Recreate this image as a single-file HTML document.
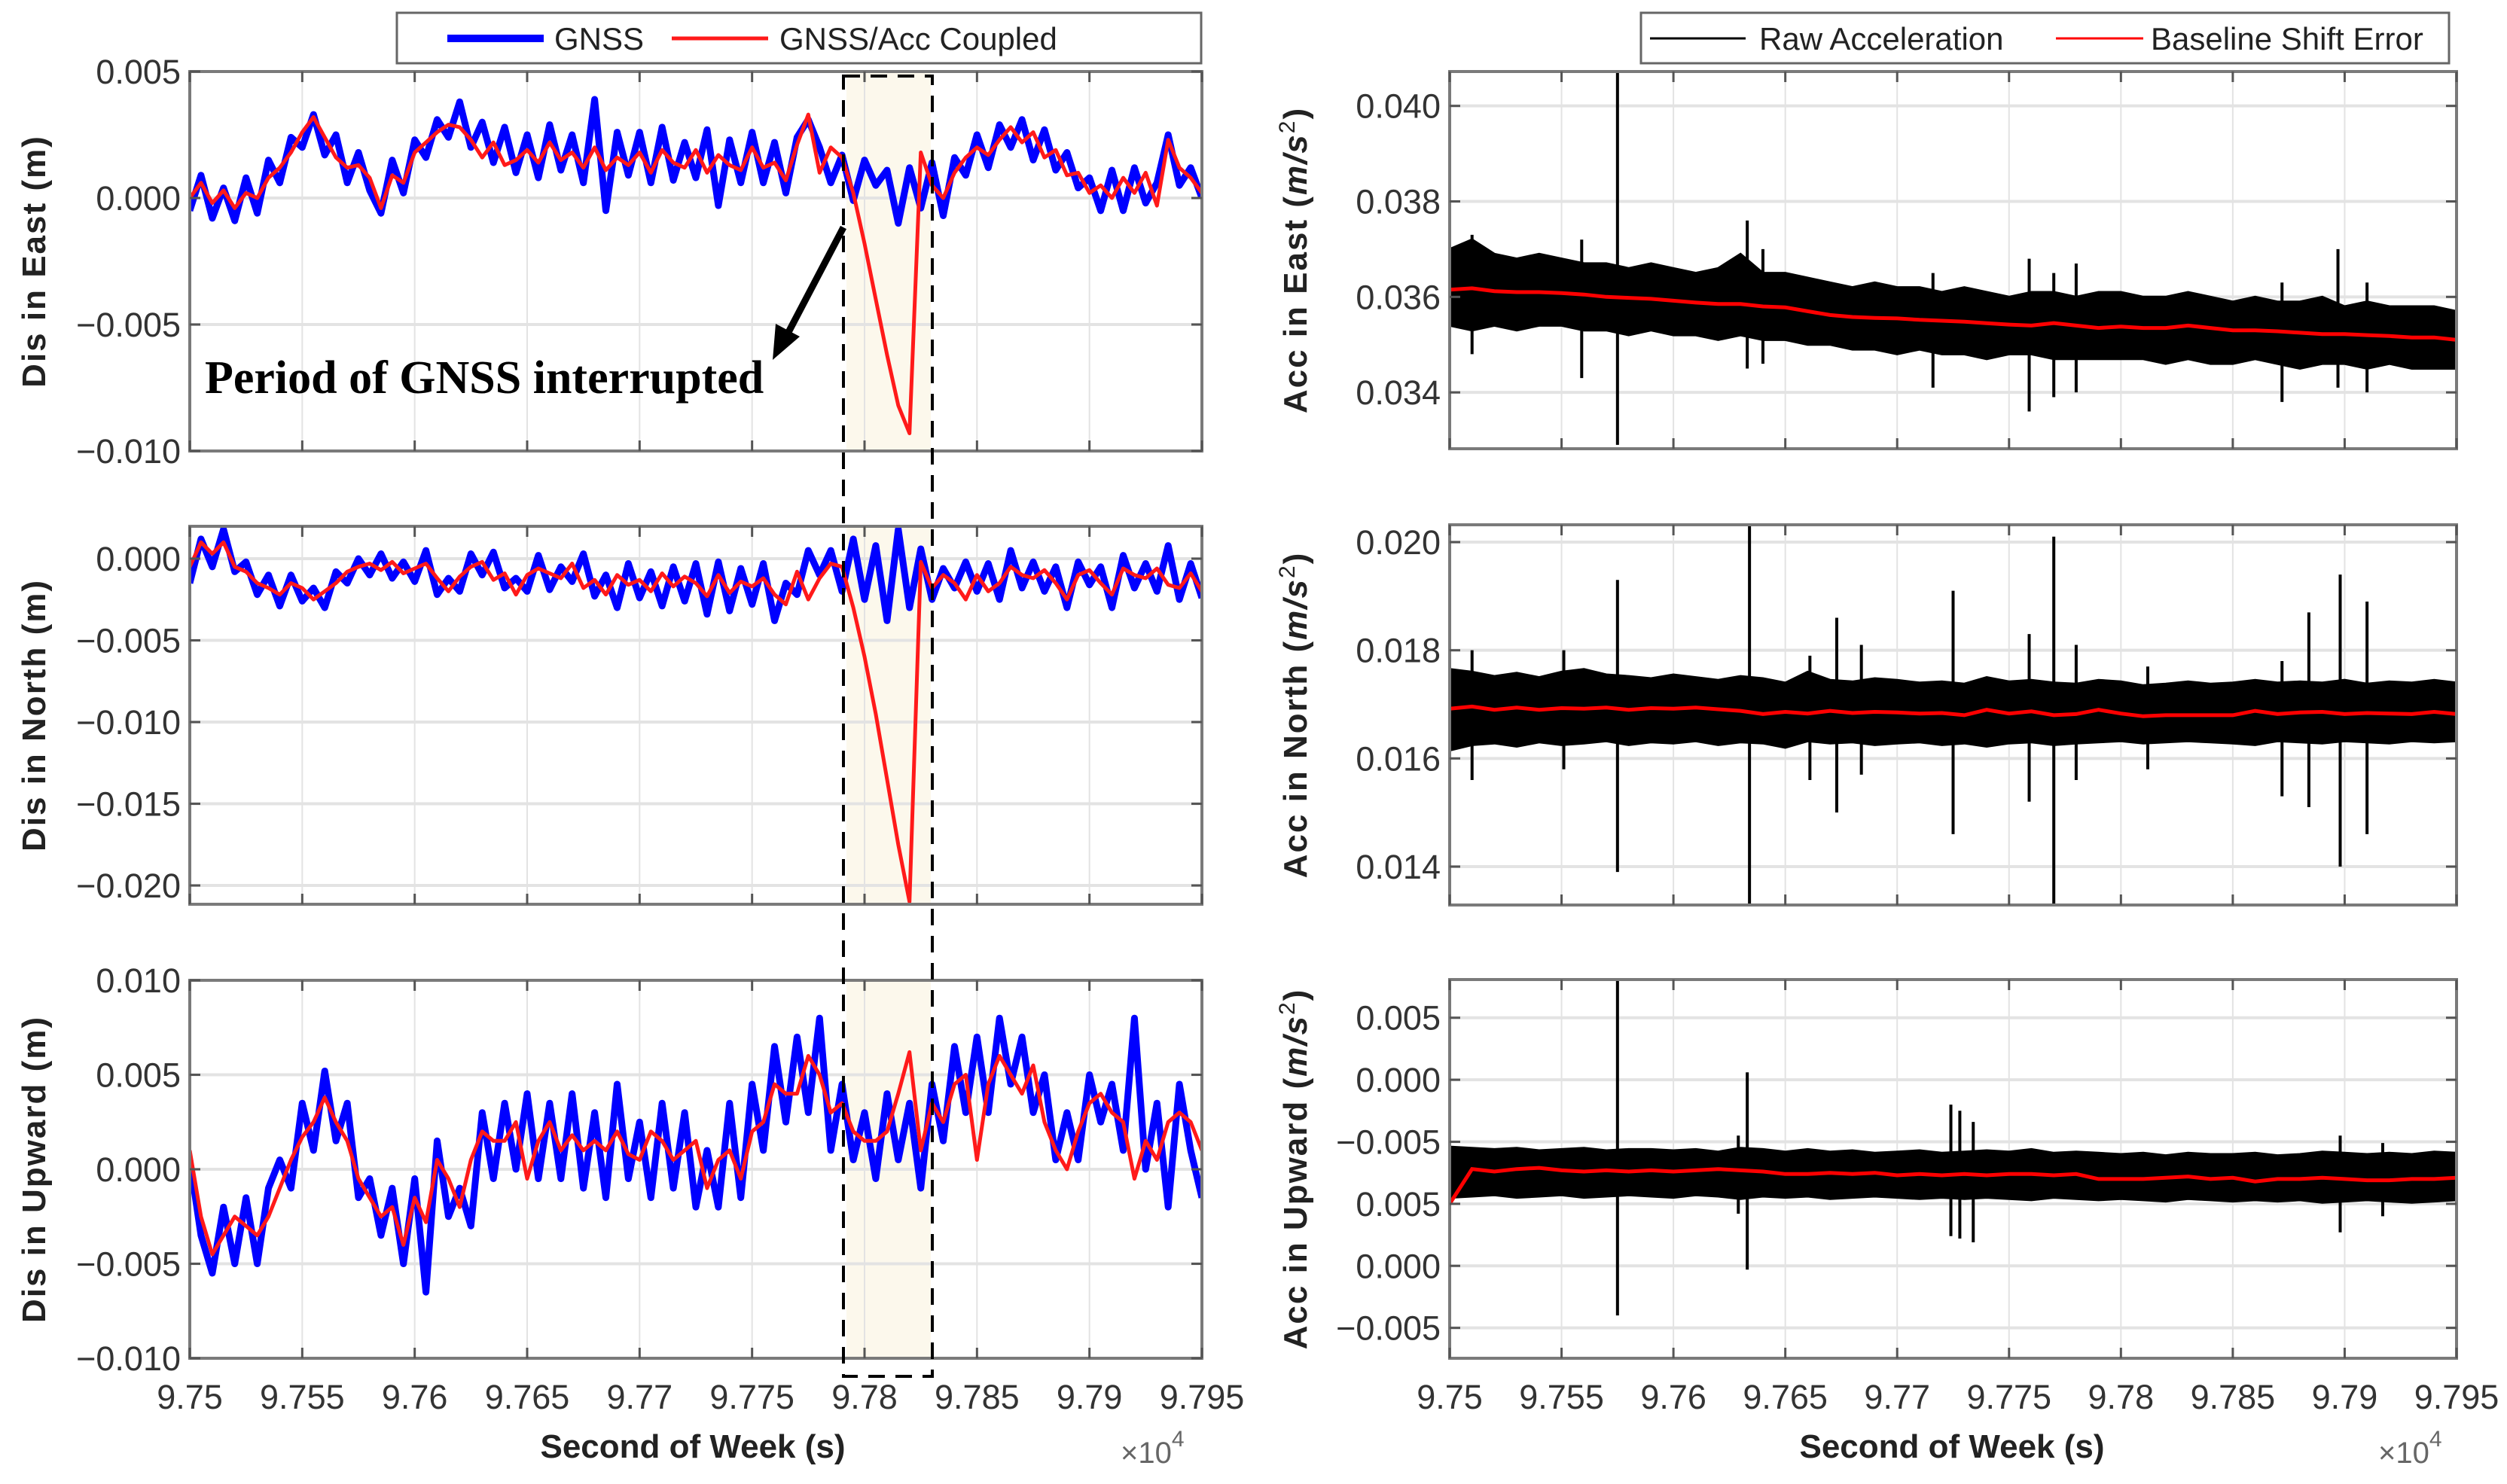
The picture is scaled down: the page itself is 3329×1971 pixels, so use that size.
<!DOCTYPE html>
<html><head><meta charset="utf-8"><style>
html,body{margin:0;padding:0;background:#fff;}
svg{display:block;}
text{font-family:"Liberation Sans",Arial,sans-serif;}
</style></head><body>
<svg id="fig" xmlns="http://www.w3.org/2000/svg" width="3329" height="1971" viewBox="0 0 3329 1971">
<g id="layer-bg"></g>
<g id="layer-data"></g>
<g id="layer-axes"></g>
<g id="layer-annot"></g>
</svg>
<script>
// ---------- data: left panels (mm, every 5 s from 97500) ----------
const xTickVals = [97500,97550,97600,97650,97700,97750,97800,97850,97900,97950];
const xTickLabels = ["9.75","9.755","9.76","9.765","9.77","9.775","9.78","9.785","9.79","9.795"];
const eastGnss = [-0.5,0.9,-0.8,0.4,-0.9,0.8,-0.6,1.5,0.6,2.4, 2.0,3.3,1.7,2.5,0.6,1.8,0.3,-0.6,1.5,0.2, 2.3,1.6,3.1,2.4,3.8,2.0,3.0,1.4,2.8,1.0, 2.5,0.8,2.9,1.1,2.5,0.6,3.9,-0.5,2.6,0.9, 2.6,0.6,2.8,0.7,2.2,0.8,2.7,-0.3,2.3,0.6, 2.6,0.6,2.2,0.2,2.4,3.1,2.0,0.6,1.7,-0.1, 1.5,0.5,1.1,-1.0,1.2,-0.4,1.4,-0.7,1.6,0.9, 2.5,1.2,2.9,2.0,3.1,1.5,2.7,1.1,1.8,0.4, 0.8,-0.5,1.1,-0.5,1.2,-0.2,0.6,2.5,0.5,1.2, 0.0];
const eastCoupled = [0.0,0.6,-0.2,0.3,-0.4,0.2,0.0,0.8,1.2,1.8, 2.6,3.2,2.4,1.6,1.2,1.3,0.8,-0.4,0.9,0.6, 1.8,2.2,2.6,2.9,2.8,2.3,1.6,2.2,1.3,1.5, 1.9,1.4,2.2,1.5,1.8,1.2,2.0,1.1,1.6,1.3, 1.8,1.0,1.9,1.4,1.2,1.9,1.0,1.7,1.3,1.1, 2.0,1.2,1.4,0.7,2.1,3.3,1.0,2.0,1.6,0.2, -1.8,-4.0,-6.2,-8.2,-9.3,1.8,0.5,0.0,1.0,1.6, 2.0,1.7,2.3,2.8,2.2,2.6,1.6,1.9,0.9,1.0, 0.2,0.5,0.0,0.8,0.2,1.0,-0.3,2.3,1.2,0.8, 0.2];
const northGnss = [-1.5,1.2,-0.5,1.8,-0.8,-0.2,-2.2,-1.0,-2.9,-1.0, -2.6,-1.8,-3.0,-0.8,-1.5,0.0,-1.0,0.3,-1.2,-0.2, -1.4,0.5,-2.2,-1.2,-2.0,0.3,-1.0,0.4,-1.8,-1.2, -2.0,0.2,-1.9,-0.5,-1.4,0.3,-2.3,-1.0,-3.0,-0.3, -2.4,-0.8,-2.9,-0.5,-2.6,-0.3,-3.4,-0.2,-3.2,-0.6, -2.8,-0.3,-3.8,-1.5,-2.2,0.5,-1.0,0.5,-2.0,1.2, -2.5,0.8,-3.8,1.8,-3.0,0.6,-2.5,-0.6,-1.8,-0.2, -2.0,-0.3,-2.5,0.5,-1.8,-0.2,-2.0,-0.5,-3.0,-0.2, -1.6,-0.5,-3.0,0.2,-1.8,-0.3,-2.0,0.8,-2.5,-0.3, -2.4];
const northCoupled = [-0.5,1.0,0.3,1.0,-0.5,-0.8,-1.5,-1.8,-2.2,-1.5, -1.8,-2.5,-2.0,-1.5,-0.8,-0.5,-0.3,-0.7,-0.2,-0.9, -0.6,-0.3,-1.2,-2.0,-1.1,-0.5,-0.2,-1.3,-0.9,-2.2, -1.0,-0.6,-0.9,-1.2,-0.3,-1.8,-1.3,-2.2,-1.0,-1.6, -1.3,-2.0,-0.9,-1.7,-1.1,-1.5,-2.3,-1.0,-2.1,-1.4, -1.7,-1.2,-2.2,-2.8,-0.8,-2.5,-1.2,-0.3,-0.5,-3.0, -6.0,-9.5,-13.5,-17.5,-21.0,-0.2,-1.8,-1.0,-1.5,-2.5, -1.0,-2.0,-1.5,-0.5,-1.0,-1.2,-0.7,-1.5,-2.5,-1.0, -0.7,-1.5,-2.2,-0.6,-1.0,-1.2,-0.6,-1.6,-1.8,-0.9, -2.0];
const upGnss = [0.5,-3.5,-5.5,-2.0,-5.0,-1.5,-5.0,-1.0,0.5,-1.0, 3.5,1.0,5.2,1.5,3.5,-1.5,-0.5,-3.5,-1.0,-5.0, -0.5,-6.5,1.5,-2.5,-1.0,-3.0,3.0,-0.5,3.5,0.0, 4.0,-0.5,3.5,-0.5,4.0,-1.0,3.0,-1.5,4.5,-0.5, 2.5,-1.5,3.5,-1.0,3.0,-2.0,1.0,-2.0,3.5,-1.5, 4.5,1.0,6.5,2.5,7.0,3.0,8.0,1.0,4.5,0.5, 3.0,-0.5,4.0,0.5,3.5,-1.0,4.5,1.5,6.5,3.0, 7.0,3.0,8.0,4.5,7.0,3.0,5.0,0.5,3.0,0.5, 5.0,2.5,4.5,1.0,8.0,0.0,3.5,-2.0,4.5,1.0, -1.5];
const upCoupled = [1.0,-2.5,-4.5,-3.5,-2.5,-3.0,-3.5,-2.5,-1.0,0.5, 1.7,2.5,3.8,2.5,1.5,-0.5,-1.5,-2.5,-2.0,-4.0, -1.5,-2.8,0.5,-0.5,-2.0,0.5,2.0,1.5,1.5,2.5, -0.5,1.5,2.5,1.0,1.8,1.0,1.5,1.0,2.0,0.8, 0.5,2.0,1.5,0.5,1.0,1.5,-1.0,0.5,1.0,-0.5, 2.0,2.5,4.5,4.0,4.0,6.0,5.0,3.0,3.5,2.0, 1.5,1.5,2.0,4.0,6.2,1.0,3.5,2.5,4.5,5.0, 0.5,4.5,6.0,5.0,4.0,5.5,2.5,1.0,0.0,2.0, 3.5,4.0,3.0,2.5,-0.5,1.5,0.5,2.5,3.0,2.5, 1.0];
// ---------- data: right panels (every 10 s from 97500) ----------
const accEastBase = [0.03615,0.03618,0.03612,0.03610,0.03610,0.03608,0.03605,0.03600,0.03598,0.03596, 0.03592,0.03588,0.03585,0.03585,0.03580,0.03578,0.03570,0.03562,0.03558,0.03556, 0.03555,0.03552,0.03550,0.03548,0.03545,0.03542,0.03540,0.03545,0.03540,0.03535, 0.03538,0.03535,0.03535,0.03540,0.03535,0.03530,0.03530,0.03528,0.03525,0.03522, 0.03522,0.03520,0.03518,0.03515,0.03515,0.03510];
const accEastHi = [0.0370,0.0372,0.0369,0.0368,0.0369,0.0368,0.0367,0.0367,0.0366,0.0367, 0.0366,0.0365,0.0366,0.0369,0.0365,0.0365,0.0364,0.0363,0.0362,0.0363, 0.0362,0.0362,0.0361,0.0362,0.0361,0.0360,0.0361,0.0361,0.0360,0.0361, 0.0361,0.0360,0.0360,0.0361,0.0360,0.0359,0.0360,0.0359,0.0359,0.0360, 0.0358,0.0359,0.0358,0.0358,0.0358,0.0357];
const accEastLo = [0.0354,0.0353,0.0354,0.0353,0.0354,0.0354,0.0353,0.0353,0.0352,0.0353, 0.0352,0.0352,0.0351,0.0352,0.0351,0.0351,0.0350,0.0350,0.0349,0.0349, 0.0348,0.0349,0.0348,0.0348,0.0347,0.0348,0.0348,0.0347,0.0347,0.0347, 0.0347,0.0347,0.0346,0.0347,0.0346,0.0346,0.0347,0.0346,0.0345,0.0346, 0.0346,0.0345,0.0346,0.0345,0.0345,0.0345];
const accEastSpikeT = [97510,97559,97575,97633,97640,97716,97759,97770,97780,97872,97897,97910];
const accEastSpikeHi = [0.0373,0.0372,0.0407,0.0376,0.0370,0.0365,0.0368,0.0365,0.0367,0.0363,0.0370,0.0363];
const accEastSpikeLo = [0.0348,0.0343,0.0329,0.0345,0.0346,0.0341,0.0336,0.0339,0.0340,0.0338,0.0341,0.0340];
const accNorthBase = [0.01692,0.01696,0.01690,0.01694,0.01690,0.01693,0.01692,0.01694,0.01690,0.01693, 0.01692,0.01694,0.01691,0.01688,0.01682,0.01686,0.01683,0.01688,0.01684,0.01686, 0.01685,0.01683,0.01684,0.01680,0.01690,0.01683,0.01687,0.01680,0.01682,0.01690, 0.01683,0.01678,0.01680,0.01680,0.01680,0.01680,0.01688,0.01682,0.01685,0.01686, 0.01682,0.01684,0.01683,0.01682,0.01686,0.01682];
const accNorthHi = [0.01765,0.01760,0.01752,0.01758,0.01750,0.01760,0.01765,0.01755,0.01752,0.01748, 0.01755,0.01750,0.01745,0.01752,0.01748,0.01740,0.01760,0.01745,0.01742,0.01748, 0.01745,0.01740,0.01742,0.01738,0.01750,0.01742,0.01745,0.01740,0.01738,0.01745, 0.01742,0.01735,0.01738,0.01742,0.01738,0.01740,0.01745,0.01740,0.01742,0.01740, 0.01745,0.01738,0.01742,0.01740,0.01745,0.01740];
const accNorthLo = [0.01615,0.01625,0.01628,0.01622,0.01630,0.01625,0.01628,0.01632,0.01625,0.01630, 0.01628,0.01632,0.01625,0.01630,0.01628,0.01620,0.01632,0.01628,0.01630,0.01625, 0.01628,0.01630,0.01625,0.01628,0.01622,0.01628,0.01630,0.01625,0.01628,0.01630, 0.01632,0.01628,0.01630,0.01632,0.01630,0.01628,0.01625,0.01632,0.01630,0.01628, 0.01632,0.01630,0.01628,0.01632,0.01630,0.01632];
const accNorthSpikeT = [97510,97551,97575,97634,97661,97673,97684,97725,97759,97770,97780,97812,97872,97884,97898,97910];
const accNorthSpikeHi = [0.0180,0.0180,0.0193,0.0203,0.0179,0.0186,0.0181,0.0191,0.0183,0.0201,0.0181,0.0177,0.0178,0.0187,0.0194,0.0189];
const accNorthSpikeLo = [0.0156,0.0158,0.0139,0.01329,0.0156,0.0150,0.0157,0.0146,0.0152,0.01329,0.0156,0.0158,0.0153,0.0151,0.0140,0.0146];
const accUpBase = [-0.0100,-0.0072,-0.0074,-0.0072,-0.0071,-0.0073,-0.0074,-0.0073,-0.0074,-0.0073, -0.0074,-0.0073,-0.0072,-0.0073,-0.0074,-0.0076,-0.0076,-0.0075,-0.0076,-0.0075, -0.0077,-0.0076,-0.0077,-0.0076,-0.0077,-0.0076,-0.0076,-0.0077,-0.0076,-0.0080, -0.0080,-0.0080,-0.0079,-0.0078,-0.0080,-0.0079,-0.0082,-0.0080,-0.0080,-0.0079, -0.0080,-0.0081,-0.0081,-0.0080,-0.0080,-0.0079];
const accUpHi = [-0.0054,-0.0055,-0.0056,-0.0055,-0.0057,-0.0056,-0.0055,-0.0057,-0.0056,-0.0056, -0.0057,-0.0056,-0.0058,-0.0055,-0.0056,-0.0058,-0.0056,-0.0058,-0.0057,-0.0059, -0.0058,-0.0057,-0.0059,-0.0058,-0.0057,-0.0058,-0.0056,-0.0059,-0.0058,-0.0059, -0.0060,-0.0059,-0.0061,-0.0059,-0.0060,-0.0060,-0.0059,-0.0061,-0.0060,-0.0058, -0.0059,-0.0060,-0.0059,-0.0060,-0.0058,-0.0059];
const accUpLo = [-0.0095,-0.0094,-0.0093,-0.0095,-0.0094,-0.0093,-0.0095,-0.0094,-0.0093,-0.0094, -0.0095,-0.0093,-0.0094,-0.0096,-0.0094,-0.0095,-0.0094,-0.0096,-0.0095,-0.0094, -0.0095,-0.0096,-0.0095,-0.0096,-0.0095,-0.0096,-0.0097,-0.0095,-0.0096,-0.0097, -0.0096,-0.0097,-0.0098,-0.0096,-0.0097,-0.0098,-0.0097,-0.0098,-0.0097,-0.0099, -0.0098,-0.0097,-0.0098,-0.0099,-0.0098,-0.0097];
const accUpSpikeT = [97575,97633,97629,97724,97728,97734,97898,97917];
const accUpSpikeHi = [0.0081,0.0006,-0.0045,-0.0020,-0.0025,-0.0034,-0.0045,-0.0051];
const accUpSpikeLo = [-0.0190,-0.0153,-0.0108,-0.0126,-0.0128,-0.0131,-0.0123,-0.0110];
// y tick arrays
const eastTicks = [0.005,0,-0.005,-0.010], eastTickLabels = ["0.005","0.000","\u22120.005","\u22120.010"];
const northTicks = [0,-0.005,-0.010,-0.015,-0.020], northTickLabels = ["0.000","\u22120.005","\u22120.010","\u22120.015","\u22120.020"];
const upTicks = [0.010,0.005,0,-0.005,-0.010], upTickLabels = ["0.010","0.005","0.000","\u22120.005","\u22120.010"];
const aEastTicks = [0.040,0.038,0.036,0.034], aEastTickLabels = ["0.040","0.038","0.036","0.034"];
const aNorthTicks = [0.020,0.018,0.016,0.014], aNorthTickLabels = ["0.020","0.018","0.016","0.014"];
const aUpTicks = [0.005,0,-0.005,-0.010,-0.015,-0.020], aUpTickLabels = ["0.005","0.000","\u22120.005","0.005","0.000","\u22120.005"];

const NS="http://www.w3.org/2000/svg";
const L={bg:document.getElementById('layer-bg'),data:document.getElementById('layer-data'),axes:document.getElementById('layer-axes'),annot:document.getElementById('layer-annot')};
function el(tag,attrs,parent){const e=document.createElementNS(NS,tag);for(const k in attrs)e.setAttribute(k,attrs[k]);parent.appendChild(e);return e;}

function makeAxes(p){
  const sx=v=>p.x0+(v-97500)/(97950-97500)*(p.x1-p.x0);
  const sy=v=>p.y0+(p.top-v)/(p.top-p.bot)*(p.y1-p.y0);
  xTickVals.forEach(v=>{const g=el('line',{x1:sx(v),x2:sx(v),y1:p.y0,y2:p.y1,stroke:'#e3e3e3','stroke-width':2},L.bg);
    
    });
  p.ticks.forEach(v=>{const g=el('line',{x1:p.x0,x2:p.x1,y1:sy(v),y2:sy(v),stroke:'#e3e3e3','stroke-width':4},L.bg);
    
    });
  return {sx,sy};
}
function frame(p,sx,sy,showX){
  const r=el('rect',{x:p.x0,y:p.y0,width:p.x1-p.x0,height:p.y1-p.y0,fill:'none',stroke:'#7a7a7a','stroke-width':4},L.axes);
  
  
  xTickVals.forEach((v,i)=>{
    el('line',{x1:sx(v),x2:sx(v),y1:p.y1,y2:p.y1-14,stroke:'#555','stroke-width':3},L.axes);
    el('line',{x1:sx(v),x2:sx(v),y1:p.y0,y2:p.y0+14,stroke:'#555','stroke-width':3},L.axes);
    if(showX){const t=el('text',{x:sx(v),y:1871,'font-size':45,fill:'#333','text-anchor':'middle'},L.axes);
      t.textContent=xTickLabels[i];
      
      }
  });
  p.ticks.forEach((v,i)=>{
    el('line',{x1:p.x0,x2:p.x0+14,y1:sy(v),y2:sy(v),stroke:'#555','stroke-width':3},L.axes);
    el('line',{x1:p.x1,x2:p.x1-14,y1:sy(v),y2:sy(v),stroke:'#555','stroke-width':3},L.axes);
    const t=el('text',{x:p.x0-12,y:sy(v)+16,'font-size':45,fill:'#333','text-anchor':'end'},L.axes);
    t.textContent=p.labels[i];
    
    
  });
}
function lineSeries(sx,sy,vals,step,scale,color,w,name,clip){
  let d='';vals.forEach((v,i)=>{d+=(i?'L':'M')+sx(97500+step*i).toFixed(1)+','+sy(v*scale).toFixed(1);});
  const pth=el('path',{d:d,fill:'none',stroke:color,'stroke-width':w,'stroke-linejoin':'round','clip-path':'url(#'+clip+')'},L.data);
  
  
}
function band(sx,sy,hi,lo,name,clip){
  let d='';hi.forEach((v,i)=>{d+=(i?'L':'M')+sx(97500+10*i).toFixed(1)+','+sy(v).toFixed(1);});
  for(let i=lo.length-1;i>=0;i--){d+='L'+sx(97500+10*i).toFixed(1)+','+sy(lo[i]).toFixed(1);}
  const pth=el('path',{d:d+'Z',fill:'#000',stroke:'#000','stroke-width':3,'clip-path':'url(#'+clip+')'},L.data);
  
  
}
function spikes(sx,sy,ts,hi,lo,clip){
  ts.forEach((t,i)=>{const s=el('line',{x1:sx(t),x2:sx(t),y1:sy(hi[i]),y2:sy(lo[i]),stroke:'#000','stroke-width':4,'clip-path':'url(#'+clip+')'},L.data);
    
    });
}
const defs=el('defs',{},document.getElementById('fig'));
function clip(id,p){const c=el('clipPath',{id:id},defs);el('rect',{x:p.x0,y:p.y0,width:p.x1-p.x0,height:p.y1-p.y0},c);}

const LX0=252,LX1=1596,RX0=1925,RX1=3262;
const panels=[
 {name:'east-dis',x0:LX0,x1:LX1,y0:95,y1:599,top:0.005,bot:-0.010,ticks:eastTicks,labels:eastTickLabels,g:eastGnss,c:eastCoupled,title:'Dis in East (m)'},
 {name:'north-dis',x0:LX0,x1:LX1,y0:699,y1:1201,top:0.00198,bot:-0.02115,ticks:northTicks,labels:northTickLabels,g:northGnss,c:northCoupled,title:'Dis in North (m)'},
 {name:'up-dis',x0:LX0,x1:LX1,y0:1302,y1:1804,top:0.010,bot:-0.010,ticks:upTicks,labels:upTickLabels,g:upGnss,c:upCoupled,title:'Dis in Upward (m)'}
];
const rpanels=[
 {name:'east-acc',x0:RX0,x1:RX1,y0:95,y1:596,top:0.04072,bot:0.03282,ticks:aEastTicks,labels:aEastTickLabels,b:accEastBase,hi:accEastHi,lo:accEastLo,st:accEastSpikeT,sh:accEastSpikeHi,sl:accEastSpikeLo,title:'East'},
 {name:'north-acc',x0:RX0,x1:RX1,y0:697,y1:1202,top:0.02032,bot:0.01329,ticks:aNorthTicks,labels:aNorthTickLabels,b:accNorthBase,hi:accNorthHi,lo:accNorthLo,st:accNorthSpikeT,sh:accNorthSpikeHi,sl:accNorthSpikeLo,title:'North'},
 {name:'up-acc',x0:RX0,x1:RX1,y0:1301,y1:1804,top:0.00808,bot:-0.02245,ticks:aUpTicks,labels:aUpTickLabels,b:accUpBase,hi:accUpHi,lo:accUpLo,st:accUpSpikeT,sh:accUpSpikeHi,sl:accUpSpikeLo,title:'Upward'}
];
panels.forEach((p,k)=>{
  const {sx,sy}=makeAxes(p);
  const sh=el('rect',{x:1124,y:p.y0,width:112,height:p.y1-p.y0,fill:'#fcf8ec'},L.bg);
  
  
  L.bg.insertBefore(sh,L.bg.firstChild);
  clip('clip-'+p.name,p);
  lineSeries(sx,sy,p.g,5,0.001,'#0000ff',9,p.name+'-gnss-line','clip-'+p.name);
  lineSeries(sx,sy,p.c,5,0.001,'#ff1a1a',5,p.name+'-coupled-line','clip-'+p.name);
  frame(p,sx,sy,k===2);
  const cy=(p.y0+p.y1)/2;
  const t=el('text',{x:60,y:cy,'font-size':44,'font-weight':'bold',fill:'#222','text-anchor':'middle',transform:'rotate(-90 60 '+cy+')','letter-spacing':'2'},L.axes);
  t.textContent=p.title;
  
  
});
rpanels.forEach((p,k)=>{
  const {sx,sy}=makeAxes(p);
  clip('clip-'+p.name,p);
  band(sx,sy,p.hi,p.lo,p.name+'-raw-band','clip-'+p.name);
  spikes(sx,sy,p.st,p.sh,p.sl,'clip-'+p.name);
  let d='';p.b.forEach((v,i)=>{d+=(i?'L':'M')+sx(97500+10*i).toFixed(1)+','+sy(v).toFixed(1);});
  const r=el('path',{d:d,fill:'none',stroke:'#ff0000','stroke-width':5,'clip-path':'url(#clip-'+p.name+')'},L.data);
  
  
  frame(p,sx,sy,k===2);
  const cy=(p.y0+p.y1)/2;
  const t=el('text',{x:1735,y:cy,'font-size':44,'font-weight':'bold',fill:'#222','text-anchor':'middle',transform:'rotate(-90 1735 '+cy+')','letter-spacing':'2'},L.axes);
  t.innerHTML='Acc in '+p.title+' (<tspan font-style="italic">m/s</tspan><tspan dy="-16" font-size="30" font-weight="normal">2</tspan><tspan dy="16">)</tspan>';
  
  
});
</script>
<svg style="position:absolute;left:0;top:0" width="3329" height="1971" viewBox="0 0 3329 1971">
  <text x="920" y="1936" font-size="44" font-weight="bold" fill="#222" text-anchor="middle" style="font-family:'Liberation Sans',sans-serif">Second of Week (s)</text>
  <text x="2592" y="1936" font-size="44" font-weight="bold" fill="#222" text-anchor="middle" style="font-family:'Liberation Sans',sans-serif">Second of Week (s)</text>
  <text x="1488" y="1943" font-size="40" fill="#666" style="font-family:'Liberation Sans',sans-serif">×10<tspan dy="-22" font-size="30">4</tspan></text>
  <text x="3158" y="1943" font-size="40" fill="#666" style="font-family:'Liberation Sans',sans-serif">×10<tspan dy="-22" font-size="30">4</tspan></text>
  <g>
    <rect x="1120" y="101" width="118" height="1727" fill="none" stroke="#000" stroke-width="4" stroke-dasharray="22,14"/>
  </g>
  <g>
    <line x1="1120" y1="302" x2="1045" y2="445" stroke="#000" stroke-width="9"/>
    <polygon points="1026,478 1030,430 1062,447" fill="#000"/>
  </g>
  <text x="272" y="522" font-size="62" font-weight="bold" fill="#000" style="font-family:'Liberation Serif',serif">Period of GNSS interrupted</text>
  <g>
    <rect x="527" y="17" width="1068" height="67" fill="#fff" stroke="#666" stroke-width="3"/>
    <line x1="594" y1="51" x2="722" y2="51" stroke="#0000ff" stroke-width="10"/>
    <text x="736" y="66" font-size="42" fill="#222" style="font-family:'Liberation Sans',sans-serif">GNSS</text>
    <line x1="892" y1="51" x2="1020" y2="51" stroke="#ff1a1a" stroke-width="5"/>
    <text x="1035" y="66" font-size="42" fill="#222" style="font-family:'Liberation Sans',sans-serif">GNSS/Acc Coupled</text>
  </g>
  <g>
    <rect x="2179" y="17" width="1073" height="67" fill="#fff" stroke="#666" stroke-width="3"/>
    <line x1="2191" y1="51" x2="2318" y2="51" stroke="#000" stroke-width="3"/>
    <text x="2336" y="66" font-size="42" fill="#222" style="font-family:'Liberation Sans',sans-serif">Raw Acceleration</text>
    <line x1="2730" y1="51" x2="2846" y2="51" stroke="#ff0000" stroke-width="3"/>
    <text x="2856" y="66" font-size="42" fill="#222" style="font-family:'Liberation Sans',sans-serif">Baseline Shift Error</text>
  </g>
</svg>
</body></html>
